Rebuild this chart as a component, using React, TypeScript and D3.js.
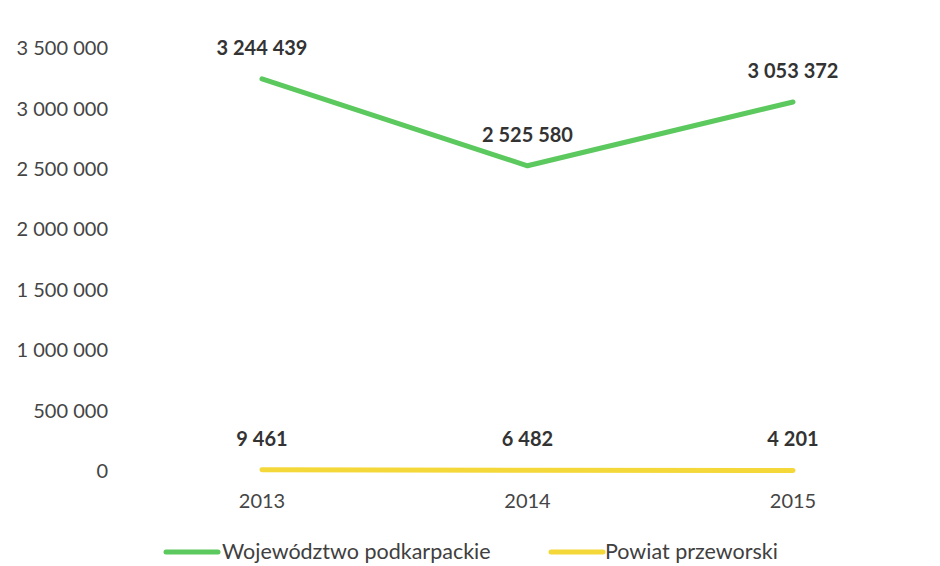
import React from "react";
import * as d3 from "d3";

const years = ["2013", "2014", "2015"];
const wojewodztwo = [3244439, 2525580, 3053372];
const powiat = [9461, 6482, 4201];
const yTicks = [0, 500000, 1000000, 1500000, 2000000, 2500000, 3000000, 3500000];
const seriesNames = ["Województwo podkarpackie", "Powiat przeworski"];

const W = 940, H = 566;
const GREEN = "#5CC95E";
const YELLOW = "#F4D83A";
const FONT = "Lato, 'Open Sans', sans-serif";

const fmt = (v: number) => d3.format(",")(v).replace(/,/g, " ");

export default function App() {
  const x = d3.scalePoint<string>().domain(years).range([262, 793]);
  const y = d3.scaleLinear().domain([0, 3500000]).range([471, 48]);
  const line = d3.line<number>().x((_, i) => x(years[i])!).y((d) => y(d));
  const series = [
    { name: seriesNames[0], values: wojewodztwo, color: GREEN },
    { name: seriesNames[1], values: powiat, color: YELLOW },
  ];
  return (
    <svg width={W} height={H} style={{ position: "absolute", left: 0, top: 0, background: "#fff" }}>
      {yTicks.map((t) => (
        <text key={t} x={108} y={y(t)} dy="0.36em" textAnchor="end" fontFamily={FONT} fontSize={20} fill="#454545">
          {fmt(t)}
        </text>
      ))}
      {years.map((yr) => (
        <text key={yr} x={x(yr)} y={508} textAnchor="middle" fontFamily={FONT} fontSize={20} fill="#454545">
          {yr}
        </text>
      ))}
      {series.map((s) => (
        <g key={s.name}>
          <path d={line(s.values)!} fill="none" stroke={s.color} strokeWidth={5} strokeLinecap="round" strokeLinejoin="round" />
          {s.values.map((v, i) => (
            <text key={i} x={x(years[i])} y={y(v) - 24} textAnchor="middle" fontFamily={FONT} fontWeight="bold" fontSize={20} fill="#333">
              {fmt(v)}
            </text>
          ))}
        </g>
      ))}
      <g fontFamily={FONT} fontSize={21.5} fill="#404040">
        <line x1={166} x2={218} y1={552} y2={552} stroke={GREEN} strokeWidth={5} strokeLinecap="round" />
        <text x={222} y={559}>{seriesNames[0]}</text>
        <line x1={551} x2={603} y1={552} y2={552} stroke={YELLOW} strokeWidth={5} strokeLinecap="round" />
        <text x={605} y={559}>{seriesNames[1]}</text>
      </g>
    </svg>
  );
}
